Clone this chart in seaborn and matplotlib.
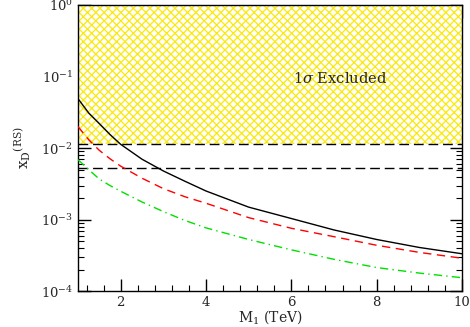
import numpy as np
import pandas as pd
import matplotlib
matplotlib.use("Agg")
import matplotlib.pyplot as plt
from matplotlib.ticker import MultipleLocator, LogLocator, NullFormatter
import seaborn as sns

# data
m1 = [1, 1.25, 1.5, 1.75, 2, 2.5, 3, 3.5, 4, 5, 6, 7, 8, 9, 10]
xd_black = [0.049, 0.031, 0.022, 0.0155, 0.0113, 0.0070, 0.0048, 0.00346, 0.00252, 0.0015,
            0.00104, 7.2e-4, 5.3e-4, 4.1e-4, 3.35e-4]
xd_red = [0.020, 0.0131, 0.0093, 0.0071, 0.0056, 0.0038, 0.00272, 0.0021, 0.0017, 0.00107,
          7.6e-4, 5.8e-4, 4.4e-4, 3.5e-4, 2.9e-4]
xd_green = [0.0069, 0.0050, 0.0037, 0.0030, 0.0025, 0.00177, 0.0013, 9.8e-4, 7.7e-4, 5.3e-4,
            3.8e-4, 2.8e-4, 2.15e-4, 1.8e-4, 1.55e-4]
excl_limit = 0.0115
dashed_level = 0.0053
x_range = [1, 10]
y_range = [1e-4, 1]

sns.set_theme(style="ticks")
plt.rcParams['font.family'] = ['DejaVu Serif']
plt.rcParams['mathtext.fontset'] = 'dejavuserif'
plt.rcParams['hatch.linewidth'] = 0.9

df = pd.DataFrame({'m1': m1, 'black': xd_black, 'red': xd_red, 'green': xd_green})

fig = plt.figure(figsize=(4.7, 3.27), dpi=100)
ax = fig.add_axes([0.166, 0.109, 0.817, 0.876])

# excluded region
ax.fill_between(x_range, [excl_limit] * 2, [y_range[1]] * 2, facecolor='white',
                edgecolor='#fbe90a', hatch='xxxx', linewidth=0, zorder=1)
ax.axhline(excl_limit, color='black', lw=1, linestyle=(0, (7, 3.5)), zorder=2)
ax.axhline(dashed_level, color='black', lw=1, linestyle=(0, (7, 3.5)), zorder=2)

sns.lineplot(data=df, x='m1', y='black', color='black', lw=1, ax=ax, zorder=3)
sns.lineplot(data=df, x='m1', y='red', color='red', lw=1, linestyle=(0, (6, 4)), ax=ax, zorder=3)
sns.lineplot(data=df, x='m1', y='green', color='#00e000', lw=1,
             linestyle=(0, (6, 3, 1, 3)), ax=ax, zorder=3)

ax.set_yscale('log')
ax.set_xlim(x_range)
ax.set_ylim(y_range)

ax.xaxis.set_major_locator(MultipleLocator(2))
ax.xaxis.set_minor_locator(MultipleLocator(0.4))
ax.yaxis.set_major_locator(LogLocator(base=10, numticks=10))
ax.yaxis.set_minor_locator(LogLocator(base=10, subs=np.arange(2, 10), numticks=20))
ax.yaxis.set_minor_formatter(NullFormatter())

ax.tick_params(which='both', direction='in', top=True, right=True, labelsize=9.5, color='black')
ax.tick_params(which='major', length=9, width=1)
ax.tick_params(which='minor', length=4.5, width=0.8)
ax.tick_params(axis='x', pad=3)
for s in ax.spines.values():
    s.set_linewidth(1)
    s.set_color('black')

ax.set_xlabel(r'M$_1$ (TeV)', fontsize=10, labelpad=0)
ax.set_ylabel(r'x$_{\rm D}$$^{\rm (RS)}$', fontsize=11, labelpad=6)
ax.text(7.15, 0.095, r'1$\sigma$ Excluded', fontsize=10.5, ha='center', va='center', zorder=4)

fig.savefig('out.png', dpi=100)
